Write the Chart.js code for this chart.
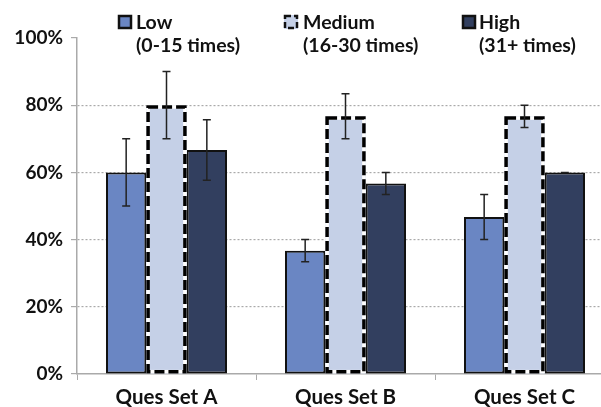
<!DOCTYPE html>
<html><head><meta charset="utf-8">
<script src="https://cdn.jsdelivr.net/npm/chart.js@4/dist/chart.umd.min.js"></script>
<style>html,body{margin:0;padding:0;overflow:hidden;background:#fff}#wrap{width:622px;height:407px}</style>
</head><body><div id="wrap"><canvas id="c" width="622" height="407"></canvas></div>
<script>
const categories = ['Ques Set A', 'Ques Set B', 'Ques Set C'];
const seriesNames = ['Low', 'Medium', 'High'];
const seriesSub = ['(0-15 times)', '(16-30 times)', '(31+ times)'];
const lowValues = [60, 36.7, 46.7];
const lowErrors = [10, 3.3, 6.7];
const mediumValues = [80, 76.7, 76.7];
const mediumErrors = [10, 6.7, 3.3];
const highValues = [66.7, 56.7, 60];
const highErrors = [9, 3.3, 0];
const yTickValues = [0, 20, 40, 60, 80, 100];

const COLORS = ['#6a86c3', '#c5d0e7', '#323f5f'];
const FONT = 'Lato, "Liberation Sans", sans-serif';
const errorSets = [lowErrors, mediumErrors, highErrors];

const mediumBorderPlugin = {
  id: 'mediumBorder',
  afterDatasetsDraw(chart) {
    const ctx = chart.ctx;
    const meta = chart.getDatasetMeta(1);
    const lw = 3.5;
    meta.data.forEach(el => {
      const p = el.getProps(['x', 'y', 'base', 'width'], true);
      const l = p.x - p.width / 2 + lw / 2, r = p.x + p.width / 2 - lw / 2;
      const t = p.y + lw / 2, b = p.base - lw / 2;
      ctx.save();
      ctx.lineWidth = lw;
      ctx.strokeStyle = '#ffffff';
      ctx.strokeRect(l, t, r - l, b - t);
      ctx.setLineDash([10, 4]);
      ctx.strokeStyle = '#000000';
      ctx.strokeRect(l, t, r - l, b - t);
      ctx.restore();
    });
  }
};

const errorBarPlugin = {
  id: 'errorBars',
  afterDatasetsDraw(chart) {
    const ctx = chart.ctx;
    const ys = chart.scales.y;
    chart.data.datasets.forEach((ds, i) => {
      const meta = chart.getDatasetMeta(i);
      meta.data.forEach((el, j) => {
        const v = ds.data[j], e = errorSets[i][j];
        const x = el.x;
        const yt = ys.getPixelForValue(v + e), yb = ys.getPixelForValue(v - e);
        ctx.save();
        ctx.strokeStyle = '#222';
        ctx.lineWidth = 1.5;
        ctx.beginPath();
        ctx.moveTo(x, yt); ctx.lineTo(x, yb);
        ctx.moveTo(x - 4, yt); ctx.lineTo(x + 4, yt);
        ctx.moveTo(x - 4, yb); ctx.lineTo(x + 4, yb);
        ctx.stroke();
        ctx.restore();
      });
    });
  }
};

const legendPlugin = {
  id: 'customLegend',
  afterDraw(chart) {
    const ctx = chart.ctx;
    const boxX = [118, 284, 462];
    const textX = [136, 303, 479];
    ctx.save();
    seriesNames.forEach((name, i) => {
      const bx = boxX[i], by = 15, bs = 14;
      ctx.fillStyle = COLORS[i];
      ctx.fillRect(bx, by, bs, bs);
      ctx.lineWidth = 2.5;
      ctx.strokeStyle = '#111';
      if (i === 1) ctx.setLineDash([6, 3]); else ctx.setLineDash([]);
      ctx.strokeRect(bx + 1, by + 1, bs - 2, bs - 2);
      ctx.setLineDash([]);
      ctx.fillStyle = '#111';
      ctx.font = 'bold 19.5px ' + FONT;
      ctx.textBaseline = 'alphabetic';
      ctx.textAlign = 'left';
      ctx.fillText(name, textX[i], 29);
      ctx.fillText(seriesSub[i], textX[i], 52);
    });
    ctx.restore();
  }
};

new Chart(document.getElementById('c'), {
  type: 'bar',
  data: {
    labels: categories,
    datasets: [
      { label: seriesNames[0], data: lowValues, backgroundColor: COLORS[0], borderColor: '#111', borderWidth: 2, borderSkipped: false },
      { label: seriesNames[1], data: mediumValues, backgroundColor: COLORS[1], borderWidth: 0 },
      { label: seriesNames[2], data: highValues, backgroundColor: COLORS[2], borderColor: '#111', borderWidth: 2, borderSkipped: false }
    ]
  },
  options: {
    responsive: false,
    devicePixelRatio: 1,
    animation: false,
    layout: { padding: { top: 38, left: 0, right: 8, bottom: 0 } },
    datasets: { bar: { categoryPercentage: 0.676, barPercentage: 1.0 } },
    plugins: { legend: { display: false }, tooltip: { enabled: false } },
    scales: {
      x: {
        afterFit(s) { s.height = 33; },
        grid: { offset: true, drawOnChartArea: false, tickLength: 6, tickColor: '#aaa', color: '#aaa' },
        border: { color: '#aaa', width: 1.5 },
        ticks: { font: { family: FONT, size: 20.5, weight: 'bold' }, color: '#111', padding: 5 }
      },
      y: {
        min: 0, max: 100,
        afterFit(s) { s.width = 77; },
        afterBuildTicks(s) { s.ticks = yTickValues.map(v => ({ value: v })); },
        grid: {
          color: c => (c.tick && (c.tick.value === 0 || c.tick.value === 100)) ? 'rgba(0,0,0,0)' : '#aaa',
          lineWidth: 1.2, tickLength: 6, tickColor: '#aaa'
        },
        border: { color: '#aaa', width: 1.5, dash: [2, 2] },
        ticks: { callback: v => v + '%', font: { family: FONT, size: 19, weight: 'bold' }, color: '#111', padding: 8 }
      }
    }
  },
  plugins: [mediumBorderPlugin, errorBarPlugin, legendPlugin]
});
</script></body></html>
